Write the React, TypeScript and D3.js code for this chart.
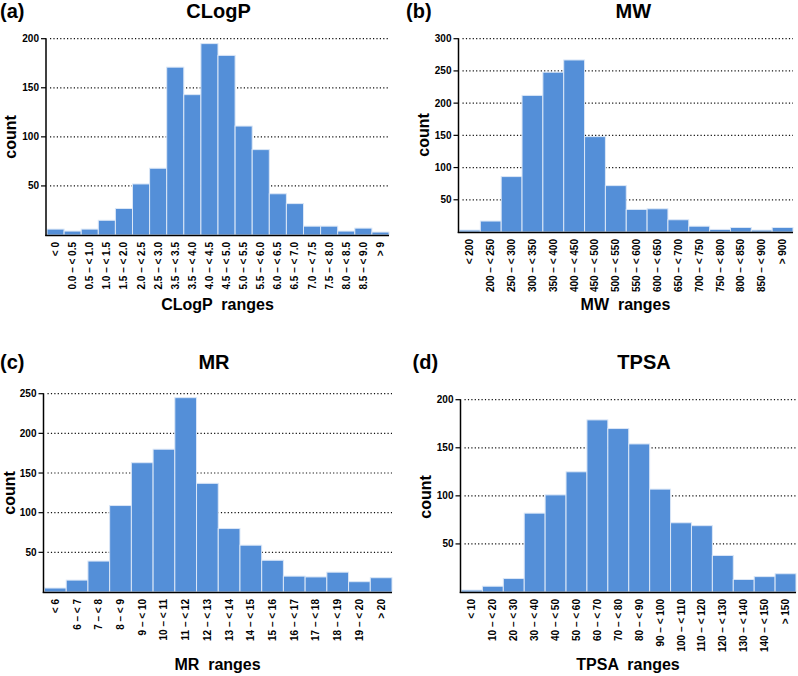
import React from "react";
import * as d3 from "d3";

// ---- data ----
const clogpRanges = [
  "< 0", "0.0 – < 0.5", "0.5 – < 1.0", "1.0 – < 1.5", "1.5 – < 2.0", "2.0 – < 2.5",
  "2.5 – < 3.0", "3.5 – < 3.5", "3.5 – < 4.0", "4.0 – < 4.5", "4.5 – < 5.0", "5.0 – < 5.5",
  "5.5 – < 6.0", "6.0 – < 6.5", "6.5 – < 7.0", "7.0 – < 7.5", "7.5 – < 8.0", "8.0 – < 8.5",
  "8.5 – < 9.0", "> 9",
];
const clogpCounts = [6, 4, 6, 15, 27, 52, 68, 171, 143, 195, 183, 111, 87, 42, 32, 9, 9, 4, 7, 3];
const clogpTicks = [50, 100, 150, 200];

const mwRanges = [
  "< 200", "200 – < 250", "250 – < 300", "300 – < 350", "350 – < 400", "400 – < 450",
  "450 – < 500", "500 – < 550", "550 – < 600", "600 – < 650", "650 – < 700", "700 – < 750",
  "750 – < 800", "800 – < 850", "850 – < 900", "> 900",
];
const mwCounts = [3, 17, 86, 212, 248, 267, 148, 72, 35, 36, 19, 9, 4, 7, 3, 7];
const mwTicks = [50, 100, 150, 200, 250, 300];

const mrRanges = [
  "< 6", "6 – < 7", "7 – < 8", "8 – < 9", "9 – < 10", "10 – < 11", "11 – < 12", "12 – < 13",
  "13 – < 14", "14 – < 15", "15 – < 16", "16 – < 17", "17 – < 18", "18 – < 19", "19 – < 20", "> 20",
];
const mrCounts = [5, 15, 39, 109, 163, 180, 245, 137, 80, 59, 40, 20, 19, 25, 13, 18];
const mrTicks = [50, 100, 150, 200, 250];

const tpsaRanges = [
  "< 10", "10 – < 20", "20 – < 30", "30 – < 40", "40 – < 50", "50 – < 60", "60 – < 70",
  "70 – < 80", "80 – < 90", "90 – < 100", "100 – < 110", "110 – < 120", "120 – < 130",
  "130 – < 140", "140 – < 150", "> 150",
];
const tpsaCounts = [2, 6, 14, 82, 101, 125, 179, 170, 154, 107, 72, 69, 38, 13, 16, 19];
const tpsaTicks = [50, 100, 150, 200];

const FONT = "'Liberation Sans', Arial, Helvetica, sans-serif";
const BAR = "#548fd8";

type PanelProps = {
  tag: string;
  title: string;
  xTitle: string;
  labels: string[];
  counts: number[];
  ticks: number[];
  x0: number; x1: number; // plot left/right
  y0: number; yTop: number; // baseline / top tick pixel
  tagX: number; titleX: number; titleY: number;
  countX: number; countY: number;
  xTitleX: number; xTitleY: number;
};

function Panel(p: PanelProps) {
  const maxTick = p.ticks[p.ticks.length - 1];
  const x = d3.scaleBand<string>().domain(p.labels).range([p.x0 + 1, p.x1]).padding(0);
  const y = d3.scaleLinear().domain([0, maxTick]).range([p.y0, p.yTop]);
  return (
    <g fontFamily={FONT} fontWeight="bold" fill="#000">
      <text x={p.tagX} y={p.titleY} fontSize={20}>{p.tag}</text>
      <text x={p.titleX} y={p.titleY} fontSize={20} textAnchor="middle">{p.title}</text>

      {/* gridlines */}
      {p.ticks.map((t) => (
        <line key={"g" + t} x1={p.x0 + 4} x2={p.x1} y1={y(t)} y2={y(t)}
          stroke="#111" strokeWidth={1.2} strokeDasharray="1.2,2.2" />
      ))}

      {/* bars */}
      {p.counts.map((c, i) => (
        <rect key={"b" + i} x={x(p.labels[i])} y={y(c)} width={x.bandwidth()}
          height={p.y0 - y(c)} fill={BAR} stroke="#dbe7f7" strokeWidth={1} />
      ))}

      {/* y axis */}
      <line x1={p.x0} x2={p.x0} y1={p.yTop - 0.5} y2={p.y0 + 1} stroke="#000" strokeWidth={1.5} />
      {p.ticks.map((t) => (
        <g key={"t" + t}>
          <line x1={p.x0 - 5} x2={p.x0} y1={y(t)} y2={y(t)} stroke="#000" strokeWidth={1.2} />
          <text x={p.x0 - 7} y={y(t)} dy="0.35em" fontSize={10} textAnchor="end">{t}</text>
        </g>
      ))}

      {/* x axis */}
      <line x1={p.x0 - 0.75} x2={p.x1} y1={p.y0 + 0.5} y2={p.y0 + 0.5} stroke="#000" strokeWidth={1.6} />
      {p.labels.map((l) => {
        const cx = (x(l) as number) + x.bandwidth() / 2;
        const ty = p.y0 + 7;
        return (
          <text key={"l" + l} transform={`translate(${cx},${ty}) rotate(-90)`} dy="0.35em"
            fontSize={10} textAnchor="end" style={{ whiteSpace: "pre" }}>{l}</text>
        );
      })}

      <text transform={`translate(${p.countX},${p.countY}) rotate(-90)`} fontSize={16} textAnchor="middle">count</text>
      <text x={p.xTitleX} y={p.xTitleY} fontSize={16} textAnchor="middle" style={{ whiteSpace: "pre" }}>{p.xTitle}</text>
    </g>
  );
}

export default function App() {
  return (
    <svg width={798} height={676} style={{ position: "absolute", left: 0, top: 0, background: "#fff" }}>
      <Panel tag="(a)" title="CLogP" xTitle="CLogP  ranges" labels={clogpRanges} counts={clogpCounts}
        ticks={clogpTicks} x0={46} x1={389} y0={235} yTop={38.7}
        tagX={0} titleX={218.5} titleY={18} countX={16} countY={137} xTitleX={217.5} xTitleY={310} />
      <Panel tag="(b)" title="MW" xTitle="MW  ranges" labels={mwRanges} counts={mwCounts}
        ticks={mwTicks} x0={458.5} x1={793} y0={232} yTop={38.7}
        tagX={406} titleX={633.3} titleY={18} countX={429} countY={135} xTitleX={625.5} xTitleY={310} />
      <Panel tag="(c)" title="MR" xTitle="MR  ranges" labels={mrRanges} counts={mrCounts}
        ticks={mrTicks} x0={43.5} x1={392} y0={592} yTop={393.7}
        tagX={0} titleX={214} titleY={369} countX={15} countY={493} xTitleX={217.5} xTitleY={670} />
      <Panel tag="(d)" title="TPSA" xTitle="TPSA  ranges" labels={tpsaRanges} counts={tpsaCounts}
        ticks={tpsaTicks} x0={460.5} x1={796} y0={592} yTop={399.7}
        tagX={412.5} titleX={644} titleY={369} countX={431} countY={497} xTitleX={628} xTitleY={670} />
    </svg>
  );
}
